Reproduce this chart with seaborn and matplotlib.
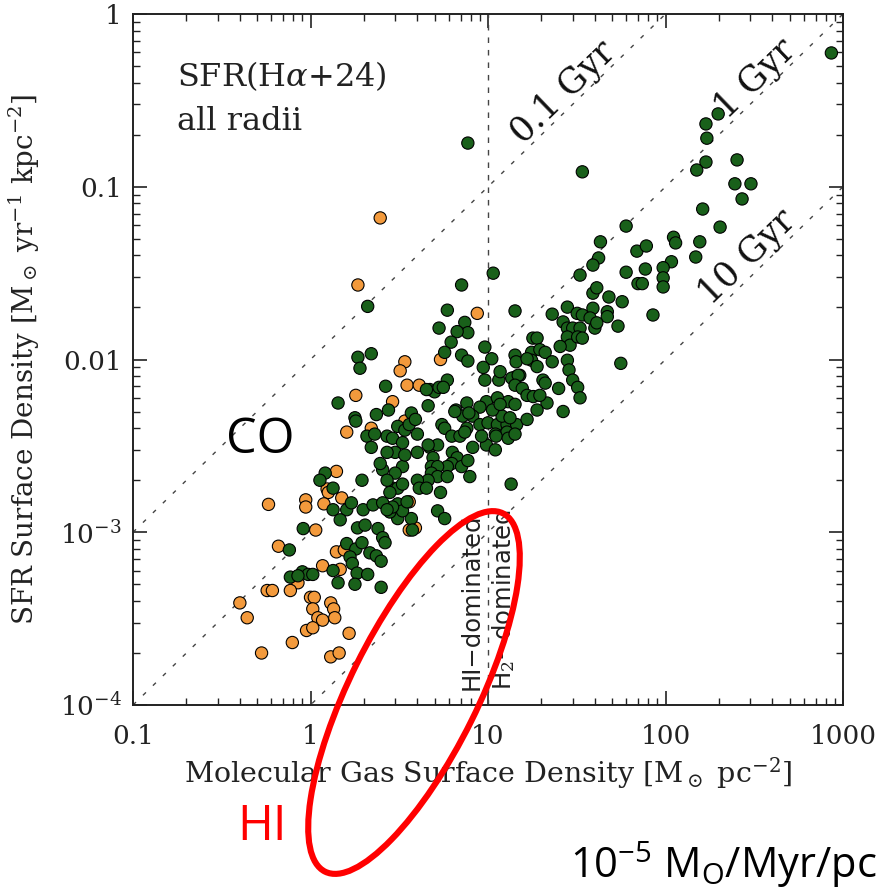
import numpy as np
import pandas as pd
import matplotlib
matplotlib.use("Agg")
import matplotlib.pyplot as plt
import seaborn as sns
from matplotlib.patches import Ellipse
from matplotlib.ticker import FixedLocator, FixedFormatter, LogLocator, NullFormatter

# ---------------- data ----------------
# orange points (HI-dominated regions)
orange_gas = [2.47, 1.85, 3.4, 3.2, 3.5, 4.1, 5.4, 8.7, 1.8, 2.9,
              1.6, 2.2, 3.4, 1.4, 1.24, 1.26, 0.58, 0.94, 0.94, 1.19,
              1.5, 1.07, 0.66, 1.4, 1.55, 1.17, 1.47, 0.85, 0.77, 0.57,
              0.61, 0.40, 0.44, 1.0, 1.05, 1.03, 1.1, 1.17, 1.3, 1.35,
              1.37, 0.95, 1.03, 0.79, 0.53, 1.3, 1.45, 1.65, 3.6, 3.9,
              3.6]
orange_sfr = [0.066, 0.027, 0.0097, 0.0086, 0.0071, 0.0071, 0.010, 0.0185, 0.0062, 0.0057,
              0.0038, 0.0040, 0.0044, 0.00225, 0.00178, 0.00170, 0.00145, 0.00154, 0.00140, 0.00146,
              0.00158, 0.00103, 0.00083, 0.00077, 0.00079, 0.00064, 0.00061, 0.00051, 0.00046, 0.00046,
              0.00046, 0.00039, 0.00032, 0.00042, 0.00042, 0.00036, 0.00032, 0.00031, 0.00039, 0.00036,
              0.00032, 0.00027, 0.00028, 0.00023, 0.00020, 0.00019, 0.00020, 0.00026, 0.00103, 0.00106,
              0.00150]

# green points (H2-dominated regions)
green_gas = [7.7, 34, 860, 198, 169, 171, 169, 150, 253, 246,
             303, 270, 162, 203, 60, 43, 42, 39, 69, 78,
             111, 114, 108, 156, 148, 60, 77, 97, 97, 97,
             70, 74, 33, 39, 41, 48, 57, 85, 39, 28,
             23, 47, 47, 54, 56, 26.5, 21.5, 25, 10.7, 7.1,
             5.9, 14.2, 2.1, 1.85, 2.2, 1.9, 2.65, 1.43, 31.8, 34,
             37.6, 40, 41, 26.5, 28, 30, 33, 28, 29, 32,
             34, 25.5, 28, 28.6, 30, 32, 33, 17.9, 18.9, 17.6,
             19.6, 21, 17.6, 14.2, 14.4, 18.9, 23, 20.4, 21, 14.2,
             15.1, 16.6, 10.5, 9.6, 7.4, 7.7, 5.3, 6.7, 6.2, 5.7,
             7.1, 7.7, 9.4, 5.9, 4.7, 5.0, 5.3, 9.6, 11.5, 11.7,
             13.6, 14.8, 14.2, 15.6, 16.6, 18, 19.6, 9.8, 11.3, 13,
             14.2, 6.6, 7.6, 9.0, 4.6, 4.5, 5.6, 5.5, 5.7, 7.2,
             8.2, 7.6, 9.0, 10, 11.3, 12.8, 14.5, 11, 12.8, 12,
             13.3, 16.6, 18.9, 10.6, 11.7, 8.2, 9.8, 4.7, 5.2, 6.5,
             7.8, 1.78, 1.8, 2.35, 2.75, 3.1, 2.7, 2.08, 2.3, 2.2,
             2.9, 3.3, 4.0, 4.6, 4.0, 4.9, 3.4, 6.3, 6.7, 6.25,
             5.9, 7.1, 7.7, 6.25, 6.95, 7.4, 9.2, 11, 3.7, 11.1,
             13, 14.2, 3.0, 3.3, 3.0, 2.9, 3.1, 3.3, 4.8, 5.2,
             4.8, 5.2, 4.6, 4.0, 4.1, 4.5, 3.4, 5.4, 5.9, 7.9,
             13.5, 3.6, 3.9, 5.2, 5.7, 3.7, 3.75, 3.1, 3.1, 3.3,
             2.8, 2.8, 2.9, 3.5, 1.21, 1.13, 1.34, 1.95, 2.55, 2.7,
             2.47, 2.7, 1.34, 1.6, 1.7, 1.47, 1.98, 2.25, 2.55, 2.7,
             1.84, 2.03, 2.4, 2.55, 2.63, 0.91, 0.76, 1.6, 1.8, 1.95,
             2.16, 2.35, 2.5, 1.67, 1.72, 1.83, 2.1, 1.34, 0.9, 0.97,
             1.03, 0.77, 0.85, 1.43, 1.78, 2.5]
green_sfr = [0.179, 0.122, 0.595, 0.264, 0.231, 0.191, 0.139, 0.125, 0.143, 0.104,
             0.104, 0.085, 0.0743, 0.0584, 0.0592, 0.048, 0.0387, 0.0352, 0.0424, 0.0454,
             0.051, 0.0473, 0.0368, 0.048, 0.0392, 0.032, 0.0334, 0.034, 0.0297, 0.0263,
             0.0275, 0.0275, 0.0308, 0.0242, 0.026, 0.023, 0.0216, 0.0181, 0.0198, 0.0201,
             0.0183, 0.0189, 0.0177, 0.0156, 0.0095, 0.005, 0.0056, 0.0068, 0.0316, 0.027,
             0.0193, 0.0191, 0.0203, 0.0103, 0.0108, 0.0089, 0.007, 0.0056, 0.0185, 0.0181,
             0.0174, 0.0152, 0.0163, 0.0165, 0.0152, 0.0152, 0.0152, 0.0135, 0.0121, 0.0135,
             0.0133, 0.0119, 0.0099, 0.0087, 0.0076, 0.0069, 0.0060, 0.0133, 0.0133, 0.0110,
             0.0114, 0.0110, 0.0099, 0.0106, 0.0097, 0.0091, 0.0097, 0.0076, 0.0073, 0.0079,
             0.0081, 0.0101, 0.0101, 0.0118, 0.0164, 0.0143, 0.0152, 0.0145, 0.0126, 0.0110,
             0.0106, 0.0098, 0.0090, 0.0076, 0.0067, 0.0065, 0.0069, 0.0076, 0.0076, 0.0085,
             0.0078, 0.0081, 0.0071, 0.0068, 0.0062, 0.0061, 0.0062, 0.0057, 0.0060, 0.0057,
             0.0055, 0.0051, 0.0056, 0.0053, 0.0054, 0.0067, 0.0069, 0.0042, 0.0040, 0.0047,
             0.0047, 0.0040, 0.0042, 0.0043, 0.0042, 0.0042, 0.0042, 0.0037, 0.0038, 0.0047,
             0.0046, 0.0045, 0.0051, 0.0051, 0.0055, 0.0031, 0.0032, 0.0031, 0.0032, 0.0050,
             0.0049, 0.0046, 0.0044, 0.0048, 0.0051, 0.0041, 0.0036, 0.0036, 0.0037, 0.0031,
             0.0035, 0.0033, 0.0029, 0.0032, 0.0037, 0.0027, 0.0039, 0.0029, 0.0027, 0.0025,
             0.0024, 0.0024, 0.0026, 0.0036, 0.0036, 0.0038, 0.0036, 0.0030, 0.0049, 0.0036,
             0.0035, 0.0037, 0.0029, 0.0024, 0.0022, 0.0018, 0.0018, 0.0019, 0.0024, 0.0024,
             0.0022, 0.0021, 0.0020, 0.0020, 0.0018, 0.0018, 0.0028, 0.0017, 0.0021, 0.0021,
             0.0019, 0.0042, 0.0045, 0.00133, 0.0012, 0.0012, 0.00103, 0.00146, 0.0012, 0.00133,
             0.00131, 0.0017, 0.0014, 0.0015, 0.0022, 0.0020, 0.0018, 0.0020, 0.0023, 0.0020,
             0.0025, 0.0029, 0.00135, 0.00135, 0.00148, 0.00118, 0.00135, 0.00144, 0.00148, 0.00135,
             0.00106, 0.0011, 0.00105, 0.00093, 0.00087, 0.00105, 0.00079, 0.00086, 0.0008, 0.00087,
             0.00076, 0.00073, 0.00068, 0.00072, 0.00066, 0.00058, 0.00057, 0.0006, 0.00059, 0.00057,
             0.00057, 0.00055, 0.00056, 0.00051, 0.0005, 0.00048]

depletion_gyr = [0.1, 1, 10]
depletion_labels = ["0.1 Gyr", "1 Gyr", "10 Gyr"]
depletion_label_pos = [(26.5, 0.35), (320, 0.42), (288, 0.039)]
threshold_gas = 10

x_ticks = [0.1, 1, 10, 100, 1000]
x_ticklabels = ["0.1", "1", "10", "100", "1000"]
y_ticks = [1e-4, 1e-3, 1e-2, 1e-1, 1]
y_ticklabels = [r"$10^{-4}$", r"$10^{-3}$", "0.01", "0.1", "1"]

ORANGE = "#f39a3c"
GREEN = "#19601a"

# ---------------- figure ----------------
sns.set_theme(style="ticks")
plt.rcParams["font.family"] = ["DejaVu Serif"]
plt.rcParams["mathtext.fontset"] = "dejavuserif"

W, H = 881, 891
fig = plt.figure(figsize=(W / 100, H / 100), dpi=100)
fig.patch.set_facecolor("white")
ax = fig.add_axes([133 / W, 1 - 705 / H, 710 / W, 691 / H])
ax.set_facecolor("white")

df = pd.DataFrame({
    "gas": orange_gas + green_gas,
    "sfr": orange_sfr + green_sfr,
    "regime": ["HI"] * len(orange_gas) + ["H2"] * len(green_gas),
})

sns.scatterplot(data=df, x="gas", y="sfr", hue="regime",
                palette={"HI": ORANGE, "H2": GREEN}, s=78,
                edgecolor="black", linewidth=0.8, legend=False, ax=ax, zorder=3)

ax.set_xscale("log")
ax.set_yscale("log")
ax.set_xlim(0.1, 1000)
ax.set_ylim(1e-4, 1)

# depletion-time lines
gas_line = np.array([0.1, 1000.0])
for t in depletion_gyr:
    ax.plot(gas_line, gas_line * 1e-3 / t, ls=(0, (3, 7)), color="#444444", lw=1.0, zorder=1)
ax.axvline(threshold_gas, ls=(0, (4, 5)), color="#444444", lw=1.0, zorder=1)

for lab, (xx, yy) in zip(depletion_labels, depletion_label_pos):
    ax.text(xx, yy, lab, rotation=44, ha="center", va="center", rotation_mode="anchor",
            fontsize=25, color="#111111", zorder=4)

ax.text(8.1, 1.22e-4, "HI\u2212dominated", rotation=90, ha="center", va="bottom",
        fontsize=17.5, family="DejaVu Sans", color="#222222")
ax.text(12.2, 1.22e-4, "H$_2$\u2212dominated", rotation=90, ha="center", va="bottom",
        fontsize=17.5, family="DejaVu Sans", color="#222222")

ax.text(0.062, 0.91, r"SFR(H$\alpha$+24)", transform=ax.transAxes, fontsize=23,
        ha="left", va="center", color="#222222")
ax.text(0.062, 0.845, "all radii", transform=ax.transAxes, fontsize=23,
        ha="left", va="center", color="#222222")

# ticks
ax.xaxis.set_major_locator(FixedLocator(x_ticks))
ax.xaxis.set_major_formatter(FixedFormatter(x_ticklabels))
ax.yaxis.set_major_locator(FixedLocator(y_ticks))
ax.yaxis.set_major_formatter(FixedFormatter(y_ticklabels))
ax.xaxis.set_minor_locator(LogLocator(base=10, subs=np.arange(2, 10)))
ax.yaxis.set_minor_locator(LogLocator(base=10, subs=np.arange(2, 10)))
ax.xaxis.set_minor_formatter(NullFormatter())
ax.yaxis.set_minor_formatter(NullFormatter())
ax.tick_params(which="both", direction="in", top=True, right=True, colors="#222222")
ax.tick_params(which="major", length=10, width=1.2)
ax.tick_params(which="minor", length=5, width=1.0)
ax.tick_params(axis="x", which="major", labelsize=19, pad=14)
ax.tick_params(axis="y", which="major", labelsize=19, pad=8)
for sp in ax.spines.values():
    sp.set_linewidth(1.4)
    sp.set_color("#222222")

ax.set_xlabel(r"Molecular Gas Surface Density [M$_\odot$ pc$^{-2}$]", fontsize=20.5, color="#222222")
ax.set_ylabel(r"SFR Surface Density [M$_\odot$ yr$^{-1}$ kpc$^{-2}$]", fontsize=20, color="#222222")
ax.xaxis.set_label_coords(0.5, -0.072)
ax.yaxis.set_label_coords(-0.128, 0.5)

# annotations outside the plot
fig.text(260 / W, 1 - 440 / H, "CO", fontsize=35, family="Open Sans", color="black",
         ha="center", va="center")
fig.text(262 / W, 1 - 827 / H, "HI", fontsize=35, family="Open Sans", color="red",
         ha="center", va="center")
fig.text(570 / W, 1 - 878 / H, r"10$^{\mathregular{-5}}$ M$_{\mathregular{O}}$/Myr/pc",
         fontsize=30, family="Open Sans", color="black", ha="left", va="baseline")

ell = Ellipse(xy=(4.14, 1.985), width=4.0, height=1.28, angle=63.6,
              transform=fig.dpi_scale_trans, fill=False, edgecolor="red", lw=4.4, clip_on=False,
              zorder=10)
fig.add_artist(ell)

fig.savefig("out.png", dpi=100, facecolor="white")
